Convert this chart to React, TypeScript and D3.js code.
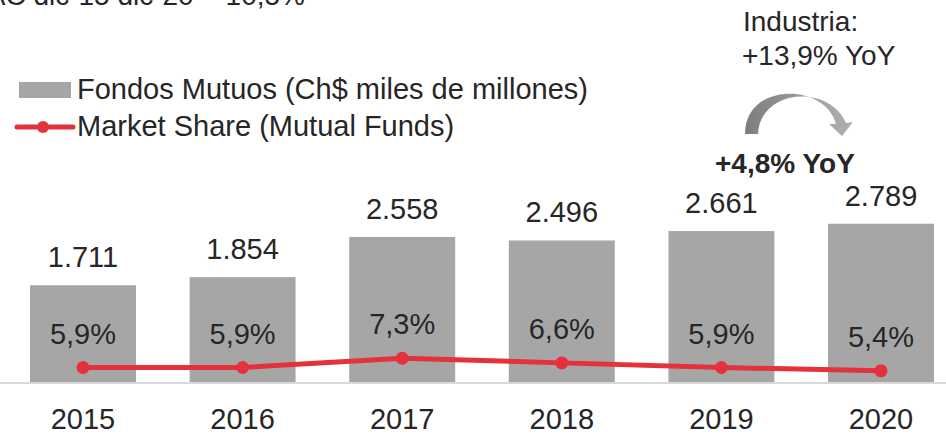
import React from 'react';
import * as d3 from 'd3';

const years = ['2015', '2016', '2017', '2018', '2019', '2020'];
const fundValues = [1711, 1854, 2558, 2496, 2661, 2789];
const marketShare = [5.9, 5.9, 7.3, 6.6, 5.9, 5.4];
const legendLabels = ['Fondos Mutuos (Ch$ miles de millones)', 'Market Share (Mutual Funds)'];
const topNote = 'TCAC dic-15 dic-20 = 10,5%';
const industryNote = ['Industria:', '+13,9% YoY'];
const ownNote = '+4,8% YoY';

const W = 946;
const H = 435;
const FONT = '"Liberation Sans", Arial, sans-serif';
const TEXT = '#262626';
const BAR = '#a6a6a6';
const RED = '#e4313b';

const loc = d3.formatLocale({ decimal: ',', thousands: '.', grouping: [3], currency: ['$', ''] });
const fmtVal = loc.format(',');
const fmtPct = (v: number) => loc.format('.1f')(v) + '%';

export default function App() {
  const x = d3.scaleBand<string>().domain(years).range([3.2, 960.8]).paddingInner(0.336).paddingOuter(0.168);
  const yBar = d3.scaleLinear().domain([0, 6707]).range([383, 0]);
  const yLine = d3.scaleLinear().domain([0, 61.25]).range([406.7, 0]);
  const cx = (i: number) => (x(years[i]) as number) + x.bandwidth() / 2;
  const line = d3
    .line<number>()
    .x((_, i) => cx(i))
    .y((d) => yLine(d));

  // curved arrow shape
  const arrowPath = (() => {
    const p = d3.path();
    p.moveTo(745, 134);
    p.bezierCurveTo(745, 82, 825, 82, 836, 124);
    p.lineTo(829, 124);
    p.lineTo(842, 136);
    p.lineTo(853, 122);
    p.lineTo(846, 123);
    p.bezierCurveTo(830, 84, 760, 88, 758, 134);
    p.closePath();
    return p.toString();
  })();

  return (
    <div style={{ position: 'fixed', left: 0, top: 0, width: W, height: H }}>
      <svg width={W} height={H} style={{ display: 'block', background: '#fff' }} fontFamily={FONT}>
        <defs>
          <linearGradient id="arrowGrad" x1="0" y1="0" x2="1" y2="0">
            <stop offset="0" stopColor="#7d7d7d" />
            <stop offset="0.5" stopColor="#9a9a9a" />
            <stop offset="1" stopColor="#b0b0b0" />
          </linearGradient>
        </defs>

        <text x={305} y={5} textAnchor="end" fontSize={28} fill={TEXT}>
          {topNote}
        </text>

        {/* legend */}
        <rect x={19} y={82} width={52} height={16} fill={BAR} />
        <text x={77} y={99} fontSize={29} fill={TEXT}>
          {legendLabels[0]}
        </text>
        <line x1={17} x2={73} y1={127} y2={127} stroke={RED} strokeWidth={5} strokeLinecap="round" />
        <circle cx={43} cy={127} r={6} fill={RED} />
        <text x={77} y={136} fontSize={29} fill={TEXT}>
          {legendLabels[1]}
        </text>

        {/* annotation */}
        <text x={743} y={31} fontSize={28} fill={TEXT}>
          {industryNote[0]}
        </text>
        <text x={742} y={65} fontSize={28} fill={TEXT}>
          {industryNote[1]}
        </text>
        <path d={arrowPath} fill="url(#arrowGrad)" />
        <text x={715} y={173} fontSize={28} fontWeight="bold" fill={TEXT}>
          {ownNote}
        </text>

        {/* bars */}
        {fundValues.map((v, i) => (
          <g key={years[i]}>
            <rect x={x(years[i])} y={yBar(v)} width={x.bandwidth()} height={yBar(0) - yBar(v)} fill={BAR} />
            <text x={cx(i)} y={yBar(v) - 18} textAnchor="middle" fontSize={29} fill={TEXT}>
              {fmtVal(v)}
            </text>
          </g>
        ))}

        {/* axis baseline */}
        <line x1={0} x2={W} y1={383} y2={383} stroke="#d9d9d9" strokeWidth={2} />

        {/* market share line */}
        <path d={line(marketShare) as string} fill="none" stroke={RED} strokeWidth={5} strokeLinejoin="round" />
        {marketShare.map((v, i) => (
          <g key={'ms' + years[i]}>
            <circle cx={cx(i)} cy={yLine(v)} r={6.5} fill={RED} />
            <text x={cx(i)} y={yLine(v) - 24} textAnchor="middle" fontSize={29} fill={TEXT}>
              {fmtPct(v)}
            </text>
          </g>
        ))}

        {/* x axis labels */}
        {years.map((yr, i) => (
          <text key={'yl' + yr} x={cx(i)} y={429} textAnchor="middle" fontSize={29} fill={TEXT}>
            {yr}
          </text>
        ))}
      </svg>
    </div>
  );
}
